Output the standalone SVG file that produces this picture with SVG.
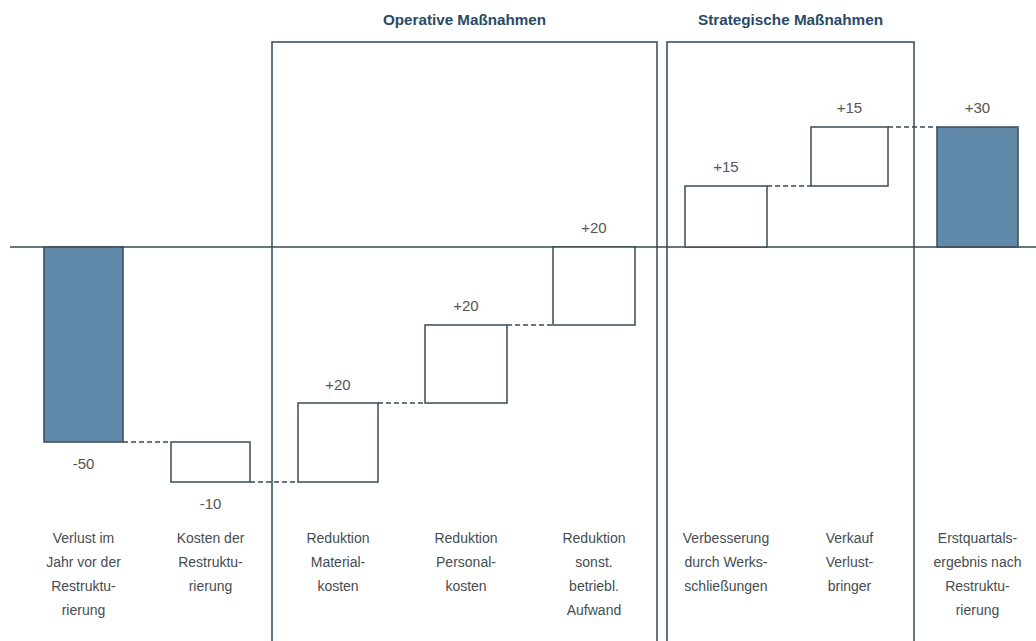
<svg xmlns="http://www.w3.org/2000/svg" width="1036" height="641" viewBox="0 0 1036 641">
<style>
.frame{fill:none;stroke:#2f4858;stroke-width:1.5}
.axis{stroke:#2f4858;stroke-width:1.5}
.box{fill:#fff;stroke:#3b4b57;stroke-width:1.5}
.total{fill:#6189aa;stroke:#3b4b57;stroke-width:1.5}
.dash{stroke:#3b4b57;stroke-width:1.5;stroke-dasharray:5 3;fill:none}
.title{font-family:"Liberation Sans",Arial,sans-serif;font-weight:bold;font-size:14px;fill:#2b4a66;text-anchor:middle}
.val{font-family:"Liberation Sans",Arial,sans-serif;font-size:15px;fill:#555;text-anchor:middle}
.lbl{font-family:"Liberation Sans",Arial,sans-serif;font-size:14px;fill:#464c52;text-anchor:middle}
</style>
<rect width="1036" height="641" fill="#fff"/>
<g id="frame-operative">
<rect class="frame" x="272" y="42" width="385" height="620"/>
<text class="title" x="464.5" y="25" textLength="163" lengthAdjust="spacingAndGlyphs">Operative Maßnahmen</text>
</g>
<g id="frame-strategic">
<rect class="frame" x="667" y="42" width="247" height="620"/>
<text class="title" x="790.5" y="25" textLength="185" lengthAdjust="spacingAndGlyphs">Strategische Maßnahmen</text>
</g>
<line class="axis" x1="10" y1="247" x2="1036" y2="247"/>
<g id="connectors">
<line class="dash" x1="123" y1="442" x2="171" y2="442"/>
<line class="dash" x1="250" y1="482" x2="298" y2="482"/>
<line class="dash" x1="378" y1="403" x2="425" y2="403"/>
<line class="dash" x1="507" y1="325" x2="553" y2="325"/>
<line class="dash" x1="767" y1="186" x2="811" y2="186"/>
<line class="dash" x1="888" y1="127" x2="937" y2="127"/>
</g>
<g id="bar-verlust">
<rect class="total" x="44" y="247" width="79" height="195"/>
<text class="val" x="83.5" y="469">-50</text>
<text class="lbl" x="83.5" y="543">Verlust im</text>
<text class="lbl" x="83.5" y="567">Jahr vor der</text>
<text class="lbl" x="83.5" y="591">Restruktu-</text>
<text class="lbl" x="83.5" y="615">rierung</text>
</g>
<g id="bar-kosten">
<rect class="box" x="171" y="442" width="79" height="40"/>
<text class="val" x="210.5" y="509">-10</text>
<text class="lbl" x="210.5" y="543">Kosten der</text>
<text class="lbl" x="210.5" y="567">Restruktu-</text>
<text class="lbl" x="210.5" y="591">rierung</text>
</g>
<g id="bar-material">
<rect class="box" x="298" y="403" width="80" height="79"/>
<text class="val" x="338" y="390">+20</text>
<text class="lbl" x="338" y="543">Reduktion</text>
<text class="lbl" x="338" y="567">Material-</text>
<text class="lbl" x="338" y="591">kosten</text>
</g>
<g id="bar-personal">
<rect class="box" x="425" y="325" width="82" height="78"/>
<text class="val" x="466" y="311">+20</text>
<text class="lbl" x="466" y="543">Reduktion</text>
<text class="lbl" x="466" y="567">Personal-</text>
<text class="lbl" x="466" y="591">kosten</text>
</g>
<g id="bar-sonst">
<rect class="box" x="553" y="247" width="82" height="78"/>
<text class="val" x="594" y="233">+20</text>
<text class="lbl" x="594" y="543">Reduktion</text>
<text class="lbl" x="594" y="567">sonst.</text>
<text class="lbl" x="594" y="591">betriebl.</text>
<text class="lbl" x="594" y="615">Aufwand</text>
</g>
<g id="bar-werk">
<rect class="box" x="685" y="186" width="82" height="61"/>
<text class="val" x="726" y="172">+15</text>
<text class="lbl" x="726" y="543">Verbesserung</text>
<text class="lbl" x="726" y="567">durch Werks-</text>
<text class="lbl" x="726" y="591">schließungen</text>
</g>
<g id="bar-verkauf">
<rect class="box" x="811" y="127" width="77" height="59"/>
<text class="val" x="849.5" y="113">+15</text>
<text class="lbl" x="849.5" y="543">Verkauf</text>
<text class="lbl" x="849.5" y="567">Verlust-</text>
<text class="lbl" x="849.5" y="591">bringer</text>
</g>
<g id="bar-ergebnis">
<rect class="total" x="937" y="127" width="81" height="120"/>
<text class="val" x="977.5" y="113">+30</text>
<text class="lbl" x="977.5" y="543">Erstquartals-</text>
<text class="lbl" x="977.5" y="567">ergebnis nach</text>
<text class="lbl" x="977.5" y="591">Restruktu-</text>
<text class="lbl" x="977.5" y="615">rierung</text>
</g>
</svg>
